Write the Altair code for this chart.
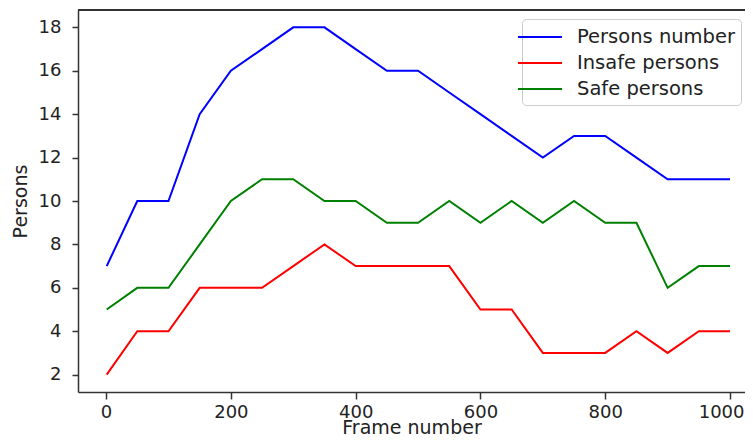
import altair as alt
import pandas as pd

frames = [1, 50, 100, 150, 200, 250, 300, 350, 400, 450, 500,
          550, 600, 650, 700, 750, 800, 850, 900, 950, 1000]
persons_number = [7, 10, 10, 14, 16, 17, 18, 18, 17, 16, 16,
                  15, 14, 13, 12, 13, 13, 12, 11, 11, 11]
insafe_persons = [2, 4, 4, 6, 6, 6, 7, 8, 7, 7, 7,
                  7, 5, 5, 3, 3, 3, 4, 3, 4, 4]
safe_persons = [5, 6, 6, 8, 10, 11, 11, 10, 10, 9, 9,
                10, 9, 10, 9, 10, 9, 9, 6, 7, 7]

series_names = ["Persons number", "Insafe persons", "Safe persons"]
series_colors = ["#0000ff", "#ff0000", "#008000"]
x_ticks = [0, 200, 400, 600, 800, 1000]
y_ticks = [2, 4, 6, 8, 10, 12, 14, 16, 18]

rows = []
for name, vals in zip(series_names, [persons_number, insafe_persons, safe_persons]):
    for f, v in zip(frames, vals):
        rows.append({"frame": f, "value": v, "series": name})
df = pd.DataFrame(rows)

W, H = 667, 382
FONT = "DejaVu Sans"

lines = alt.Chart(df).mark_line(strokeWidth=2).encode(
    x=alt.X("frame:Q",
            scale=alt.Scale(domain=[-45, 1024], nice=False, zero=False),
            axis=alt.Axis(values=x_ticks, format="d", title="Frame number", grid=False,
                          tickSize=7, labelPadding=4,
                          titleFontSize=19, titleY=41, titleBaseline="alphabetic",
                          labelFlush=20, labelFlushOffset=14)),
    y=alt.Y("value:Q",
            scale=alt.Scale(domain=[1.2, 18.8], nice=False, zero=False),
            axis=alt.Axis(values=y_ticks, title="Persons", grid=False,
                          tickSize=6, labelPadding=11,
                          titleFontSize=19, titleX=-52, titleBaseline="alphabetic")),
    color=alt.Color("series:N",
                    scale=alt.Scale(domain=series_names, range=series_colors),
                    legend=alt.Legend(title=None, orient="none",
                                      legendX=444, legendY=9,
                                      symbolType="M-2,0H2", symbolSize=484,
                                      symbolStrokeWidth=2, labelOffset=25,
                                      labelFontSize=19.5, labelFont=FONT,
                                      labelLimit=400,
                                      labelColor="#222", rowPadding=4,
                                      padding=6, fillColor="white",
                                      strokeColor="#cccccc", cornerRadius=4)),
    order=alt.Order("frame:Q"),
)

top_border = alt.Chart(df).mark_rule(color="#333333", strokeWidth=1.5).encode(
    x=alt.value(0), x2=alt.value(W), y=alt.value(0)
)

chart = alt.layer(top_border, lines).properties(
    width=W, height=H,
    autosize=alt.AutoSizeParams(type="none"),
    padding={"left": 70, "top": 2, "right": 0, "bottom": 46},
).configure_view(stroke=None).configure_axis(
    labelFont=FONT, titleFont=FONT, labelFontSize=18,
    labelColor="#222", titleColor="#222", titleFontWeight="normal",
    domainColor="#333333", domainWidth=1.5, tickColor="#333333", tickWidth=1.5,
)

chart.save("out.html", embed_options={"renderer": "svg", "actions": False})
